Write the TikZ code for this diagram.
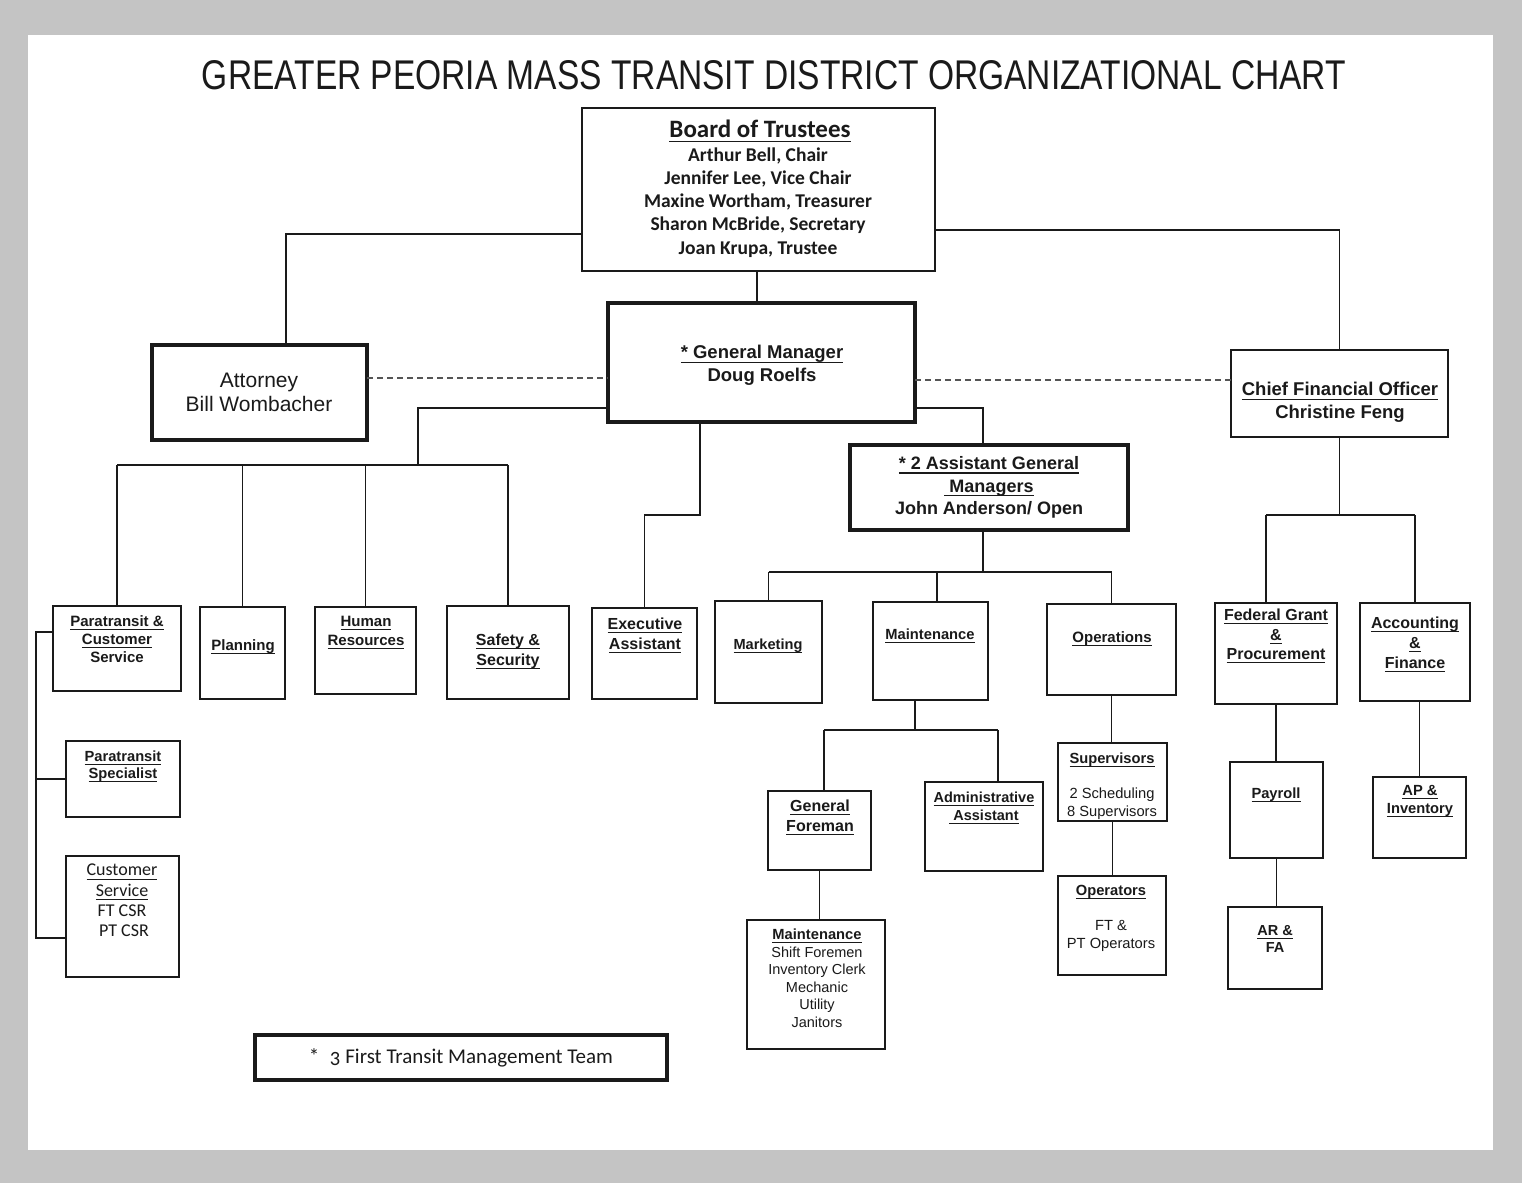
\documentclass[tikz,border=0pt]{standalone}
\usepackage{fontspec}
\usepackage{graphicx}
\setmainfont{Liberation Sans}
\newfontfamily\calfont{Carlito}
\newfontfamily\calosfont[Numbers=OldStyle]{Carlito}
\newbox\ulbx
\newcommand\uln[1]{\setbox\ulbx=\hbox{#1}\leavevmode\rlap{\vrule width\wd\ulbx height -0.16em depth \dimexpr0.16em+1.1pt\relax}\box\ulbx}
\usetikzlibrary{fit,calc}
\definecolor{ink}{HTML}{1A1A1A}
\definecolor{frame}{HTML}{C4C4C4}
\definecolor{dashc}{HTML}{555555}
\begin{document}
\begin{tikzpicture}[x=1pt,y=-1pt,
  box/.style={draw=ink,fill=white,line width=2pt,inner sep=0pt,outer sep=0pt},
  tbox/.style={box,line width=3.2pt},
  conn/.style={draw=ink,line width=1.6pt},
  dashln/.style={draw=dashc,line width=1.2pt,dash pattern=on 6pt off 4pt},
  txt/.style={inner sep=0pt,outer sep=0pt,align=center,anchor=north,text=ink},
  bf/.style 2 args={font=\bfseries\fontsize{#1}{#2}\selectfont},
  rg/.style 2 args={font=\fontsize{#1}{#2}\selectfont}]
\useasboundingbox (0,0) rectangle (1522,1183);
\fill[frame] (0,0) rectangle (1522,1183);
\fill[white] (28,35) rectangle (1493,1150);

% title
\node[txt,anchor=center] (title) at (774,75)
  {\resizebox{1144pt}{29pt}{\fontsize{40}{40}\selectfont GREATER PEORIA MASS TRANSIT DISTRICT ORGANIZATIONAL CHART}};

% boxes
\node[box,fit={(582,108) (935,271)}] (board) {};
\node[tbox,fit={(152,345) (367,440)}] (att) {};
\node[tbox,fit={(608,303) (915,422)}] (gm) {};
\node[box,fit={(1231,350) (1448,437)}] (cfo) {};
\node[tbox,fit={(850,445) (1128,530)}] (agm) {};
\node[box,fit={(53,606) (181,691)}] (ptcs) {};
\node[box,fit={(200,607) (285,699)}] (plan) {};
\node[box,fit={(315,607) (416,694)}] (hr) {};
\node[box,fit={(447,606) (569,699)}] (safe) {};
\node[box,fit={(592,608) (697,699)}] (exec) {};
\node[box,fit={(715,601) (822,703)}] (mkt) {};
\node[box,fit={(873,602) (988,700)}] (mnt) {};
\node[box,fit={(1047,604) (1176,695)}] (ops) {};
\node[box,fit={(1215,603) (1337,704)}] (fgp) {};
\node[box,fit={(1360,603) (1470,701)}] (acc) {};
\node[box,fit={(66,741) (180,817)}] (pts) {};
\node[box,fit={(66,856) (179,977)}] (cs) {};
\node[box,fit={(768,791) (871,870)}] (gf) {};
\node[box,fit={(925,782) (1043,871)}] (aa) {};
\node[box,fit={(747,920) (885,1049)}] (mstaff) {};
\node[box,fit={(1058,743) (1167,821)}] (sup) {};
\node[box,fit={(1058,876) (1166,975)}] (opr) {};
\node[box,fit={(1230,762) (1323,858)}] (pay) {};
\node[box,fit={(1228,907) (1322,989)}] (arfa) {};
\node[box,fit={(1373,777) (1466,858)}] (apinv) {};
\node[tbox,fit={(255,1035) (667,1080)}] (legend) {};

% connectors
\coordinate (bl) at ([yshift=-44.5pt]board.west);
\coordinate (atn) at ([xshift=26.5pt]att.north);
\draw[conn] (bl) -| (atn);
\coordinate (br) at ([yshift=-40.5pt]board.east);
\draw[conn] (br) -| (cfo.north);
\coordinate (bs) at ([xshift=-1.5pt]board.south);
\draw[conn] (bs) -- (bs |- gm.north);

\coordinate (ae) at ([yshift=14.5pt]att.east);
\draw[dashln] (ae) -- (ae -| gm.west);
\coordinate (ge) at ([yshift=-17.5pt]gm.east);
\draw[dashln] (ge) -- (ge -| cfo.west);

\coordinate (gw) at ([yshift=-45.5pt]gm.west);
\coordinate (lb) at (418,465);
\draw[conn] (gw) -| (lb);
\draw[conn] (ptcs.north |- lb) -- (safe.north |- lb);
\foreach \n in {ptcs,plan,hr,safe} \draw[conn] (\n.north |- lb) -- (\n.north);

\coordinate (gs) at ([xshift=-61.5pt]gm.south);
\coordinate (eb) at (0,515);
\draw[conn] (gs) -- (gs |- eb) -| (exec.north);

\coordinate (gr) at ([yshift=-45.5pt]gm.east);
\coordinate (agn) at ([xshift=-6pt]agm.north);
\draw[conn] (gr) -| (agn);
\coordinate (ags) at ([xshift=-6pt]agm.south);
\coordinate (mb) at (0,572);
\draw[conn] (ags) -- (ags |- mb);
\coordinate (mntn) at ([xshift=6.5pt]mnt.north);
\draw[conn] (mkt.north |- mb) -- (ops.north |- mb);
\draw[conn] (mkt.north |- mb) -- (mkt.north);
\draw[conn] (mntn |- mb) -- (mntn);
\draw[conn] (ops.north |- mb) -- (ops.north);

\coordinate (cb) at (0,515);
\draw[conn] (cfo.south) -- (cfo.south |- cb);
\coordinate (fgn) at ([xshift=-10pt]fgp.north);
\draw[conn] (fgn |- cb) -- (acc.north |- cb);
\draw[conn] (fgn |- cb) -- (fgn);
\draw[conn] (acc.north |- cb) -- (acc.north);

\coordinate (pw) at ([yshift=16.5pt]ptcs.west);
\coordinate (px) at (36,0);
\coordinate (cw) at ([yshift=-21.5pt]cs.west);
\draw[conn] (pw) -| (px |- cw) -- (cw);
\draw[conn] (px |- pts.west) -- (pts.west);

\coordinate (ms) at ([xshift=-15.5pt]mnt.south);
\coordinate (mb2) at (0,730);
\draw[conn] (ms) -- (ms |- mb2);
\coordinate (gfn) at ([xshift=4.5pt]gf.north);
\coordinate (aan) at ([xshift=14pt]aa.north);
\draw[conn] (gfn |- mb2) -- (aan |- mb2);
\draw[conn] (gfn |- mb2) -- (gfn);
\draw[conn] (aan |- mb2) -- (aan);

\draw[conn] (gf.south) -- (gf.south |- mstaff.north);
\draw[conn] (ops.south) -- (ops.south |- sup.north);
\draw[conn] (sup.south) -- (sup.south |- opr.north);
\draw[conn] (fgp.south) -- (fgp.south |- pay.north);
\draw[conn] (pay.south) -- (pay.south |- arfa.north);
\draw[conn] (apinv.north |- acc.south) -- (apinv.north);

% texts
\node[txt,font=\calfont\bfseries\fontsize{25}{30}\selectfont] (board-h) at (760,119.5) {\uln{Board of Trustees}};
\node[txt,font=\calfont\bfseries\fontsize{19.5}{23.25}\selectfont] (board-t) at (758,147.5)
  {Arthur Bell, Chair\\Jennifer Lee, Vice Chair\\Maxine Wortham, Treasurer\\Sharon McBride, Secretary\\Joan Krupa, Trustee};
\node[txt,rg={21}{24}] (att-t) at (259,373.4) {Attorney\\Bill Wombacher};
\node[txt,bf={18.5}{23}] (gm-t) at (762,345.3) {\uln{* General Manager}\\Doug Roelfs};
\node[txt,bf={18.5}{23}] (cfo-t) at (1340,382.3) {\uln{Chief Financial Officer}\\Christine Feng};
\node[txt,bf={18}{22.5}] (agm-t) at (989,456.5) {\uln{* 2 Assistant General}\\\uln{ Managers}\\John Anderson/ Open};
\node[txt,bf={15}{18}] (ptcs-t) at (117,615.5) {\uln{Paratransit \&}\\\uln{Customer}\\Service};
\node[txt,bf={15}{18}] (plan-t) at (243,639.5) {\uln{Planning}};
\node[txt,bf={15}{19}] (hr-t) at (366,616.5) {\uln{Human}\\\uln{Resources}};
\node[txt,bf={16}{20}] (safe-t) at (508,634.1) {\uln{Safety \&}\\\uln{Security}};
\node[txt,bf={16}{20}] (exec-t) at (645,618.1) {\uln{Executive}\\\uln{Assistant}};
\node[txt,bf={14.6}{18}] (mkt-t) at (768,638.6) {\uln{Marketing}};
\node[txt,bf={14.7}{18}] (mnt-t) at (930,628.6) {\uln{Maintenance}};
\node[txt,bf={15}{18}] (ops-t) at (1112,631.5) {\uln{Operations}};
\node[txt,bf={16}{19.5}] (fgp-t) at (1276,609.1) {\uln{Federal Grant}\\\uln{\&}\\\uln{Procurement}};
\node[txt,bf={16}{20}] (acc-t) at (1415,617.1) {\uln{Accounting}\\\uln{\&}\\\uln{Finance}};
\node[txt,bf={14.7}{17}] (pts-t) at (123,750.6) {\uln{Paratransit}\\\uln{Specialist}};
\node[txt,font=\calfont\fontsize{18}{20.3}\selectfont] (cs-t) at (122,864.2) {\uln{Customer}\\\uln{Service}\\FT CSR\\\ PT CSR};
\node[txt,bf={16}{20}] (gf-t) at (820,800.1) {\uln{General}\\\uln{Foreman}};
\node[txt,bf={14.5}{18}] (aa-t) at (984,791.7) {\uln{Administrative}\\\uln{ Assistant}};
\node[txt,bf={14.7}{18}] (mstaff-h) at (817,928.6) {\uln{Maintenance}};
\node[txt,rg={14.5}{17.5}] (mstaff-t) at (817,946.7) {Shift Foremen\\Inventory Clerk\\Mechanic\\Utility\\Janitors};
\node[txt,bf={14.7}{18}] (sup-h) at (1112,752.6) {\uln{Supervisors}};
\node[txt,rg={14.7}{18}] (sup-t) at (1112,787.6) {2 Scheduling\\8 Supervisors};
\node[txt,bf={14.7}{18}] (opr-h) at (1111,885.6) {\uln{Operators}};
\node[txt,rg={14.7}{18}] (opr-t) at (1111,920.6) {FT \&\\PT Operators};
\node[txt,bf={14.7}{18}] (pay-t) at (1276,787.6) {\uln{Payroll}};
\node[txt,bf={14.5}{17}] (arfa-t) at (1275,925.7) {\uln{AR \&}\\FA};
\node[txt,bf={14.7}{18}] (apinv-t) at (1420,785.6) {\uln{AP \&}\\\uln{Inventory}};
\node[txt,font=\calosfont\fontsize{21}{24}\selectfont] (legend-t) at (461,1048.5) {*\hspace{0.5em}3 First Transit Management Team};
\end{tikzpicture}
\end{document}
